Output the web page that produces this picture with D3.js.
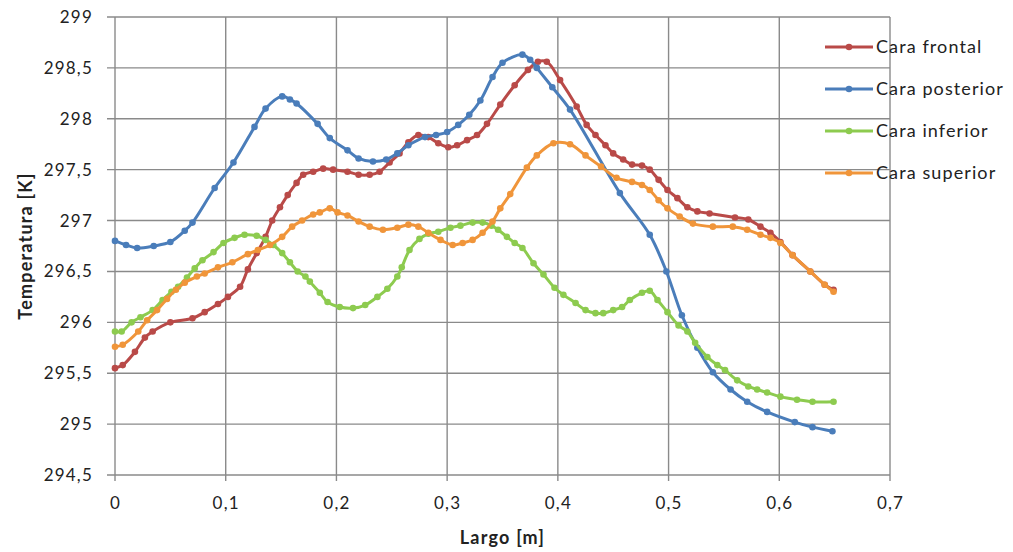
<!DOCTYPE html>
<html>
<head>
<meta charset="utf-8">
<script src="https://cdn.jsdelivr.net/npm/d3@7"></script>
<style>
  body { margin: 0; background: #fff; }
  svg { font-family: Lato, "Open Sans", sans-serif; }
</style>
</head>
<body>
<svg id="chart" width="1013" height="552"></svg>
<script>
// Cara frontal
const frontalX = [0, 0.007, 0.018, 0.027, 0.034, 0.05, 0.07, 0.081, 0.093, 0.102, 0.113, 0.12, 0.128, 0.136, 0.142, 0.149, 0.156, 0.164, 0.17, 0.179, 0.188, 0.197, 0.21, 0.22, 0.23, 0.239, 0.248, 0.257, 0.265, 0.274, 0.283, 0.292, 0.301, 0.309, 0.318, 0.327, 0.336, 0.348, 0.361, 0.373, 0.382, 0.39, 0.402, 0.417, 0.426, 0.434, 0.443, 0.45, 0.459, 0.467, 0.476, 0.483, 0.491, 0.499, 0.508, 0.517, 0.526, 0.537, 0.56, 0.572, 0.583, 0.592, 0.601, 0.612, 0.628, 0.641, 0.649];
const frontalT = [295.55, 295.58, 295.71, 295.85, 295.91, 296.0, 296.04, 296.1, 296.18, 296.25, 296.35, 296.52, 296.68, 296.84, 297.0, 297.13, 297.25, 297.37, 297.45, 297.48, 297.51, 297.5, 297.48, 297.45, 297.45, 297.48, 297.57, 297.66, 297.77, 297.84, 297.82, 297.76, 297.72, 297.74, 297.79, 297.84, 297.95, 298.14, 298.33, 298.48, 298.56, 298.56, 298.38, 298.12, 297.94, 297.84, 297.74, 297.66, 297.6, 297.55, 297.54, 297.5, 297.4, 297.3, 297.22, 297.13, 297.09, 297.07, 297.03, 297.01, 296.94, 296.88, 296.79, 296.66, 296.5, 296.37, 296.32];

// Cara posterior
const posteriorX = [0, 0.01, 0.02, 0.035, 0.05, 0.063, 0.07, 0.09, 0.107, 0.126, 0.136, 0.151, 0.158, 0.164, 0.183, 0.194, 0.21, 0.22, 0.233, 0.245, 0.255, 0.265, 0.28, 0.29, 0.3, 0.31, 0.32, 0.33, 0.341, 0.35, 0.368, 0.375, 0.381, 0.395, 0.411, 0.456, 0.483, 0.498, 0.512, 0.526, 0.54, 0.556, 0.571, 0.589, 0.614, 0.63, 0.648];
const posteriorT = [296.8, 296.76, 296.73, 296.75, 296.79, 296.9, 296.98, 297.32, 297.57, 297.92, 298.1, 298.22, 298.19, 298.15, 297.95, 297.81, 297.69, 297.61, 297.58, 297.6, 297.66, 297.74, 297.82, 297.84, 297.87, 297.94, 298.04, 298.18, 298.41, 298.55, 298.63, 298.58, 298.5, 298.31, 298.09, 297.27, 296.86, 296.5, 296.07, 295.75, 295.51, 295.34, 295.22, 295.12, 295.02, 294.97, 294.93];

// Cara inferior
const inferiorX = [0, 0.006, 0.015, 0.023, 0.034, 0.043, 0.051, 0.057, 0.065, 0.072, 0.079, 0.089, 0.098, 0.108, 0.117, 0.128, 0.136, 0.143, 0.151, 0.158, 0.165, 0.172, 0.176, 0.185, 0.192, 0.203, 0.215, 0.226, 0.237, 0.246, 0.255, 0.259, 0.266, 0.275, 0.283, 0.292, 0.303, 0.312, 0.323, 0.332, 0.34, 0.346, 0.354, 0.361, 0.368, 0.378, 0.387, 0.397, 0.405, 0.416, 0.425, 0.434, 0.441, 0.45, 0.458, 0.465, 0.476, 0.483, 0.49, 0.499, 0.509, 0.517, 0.524, 0.535, 0.544, 0.551, 0.562, 0.572, 0.58, 0.589, 0.601, 0.616, 0.63, 0.649];
const inferiorT = [295.91, 295.91, 296.0, 296.05, 296.12, 296.22, 296.3, 296.35, 296.44, 296.53, 296.61, 296.69, 296.78, 296.83, 296.86, 296.85, 296.81, 296.76, 296.68, 296.59, 296.5, 296.45, 296.4, 296.29, 296.2, 296.15, 296.14, 296.17, 296.25, 296.33, 296.45, 296.54, 296.71, 296.82, 296.87, 296.89, 296.93, 296.95, 296.98, 296.98, 296.95, 296.91, 296.84, 296.78, 296.73, 296.58, 296.47, 296.34, 296.27, 296.19, 296.12, 296.09, 296.09, 296.12, 296.15, 296.22, 296.29, 296.31, 296.22, 296.1, 295.97, 295.91, 295.8, 295.66, 295.58, 295.53, 295.43, 295.37, 295.34, 295.31, 295.27, 295.24, 295.22, 295.22];

// Cara superior
const superiorX = [0, 0.007, 0.021, 0.029, 0.038, 0.047, 0.055, 0.063, 0.074, 0.081, 0.093, 0.106, 0.12, 0.129, 0.14, 0.151, 0.16, 0.169, 0.179, 0.185, 0.194, 0.201, 0.21, 0.22, 0.23, 0.242, 0.255, 0.265, 0.274, 0.283, 0.294, 0.305, 0.314, 0.323, 0.332, 0.341, 0.348, 0.357, 0.372, 0.381, 0.396, 0.411, 0.425, 0.439, 0.453, 0.467, 0.476, 0.483, 0.491, 0.499, 0.51, 0.522, 0.54, 0.558, 0.571, 0.583, 0.592, 0.601, 0.612, 0.628, 0.641, 0.649];
const superiorT = [295.76, 295.78, 295.91, 296.02, 296.12, 296.23, 296.32, 296.39, 296.45, 296.48, 296.54, 296.59, 296.67, 296.71, 296.76, 296.84, 296.94, 297.0, 297.06, 297.08, 297.12, 297.08, 297.05, 296.99, 296.94, 296.91, 296.93, 296.96, 296.94, 296.88, 296.81, 296.76, 296.78, 296.81, 296.88, 296.99, 297.12, 297.26, 297.52, 297.64, 297.76, 297.75, 297.64, 297.53, 297.42, 297.38, 297.35, 297.3, 297.2, 297.12, 297.04, 296.97, 296.94, 296.94, 296.91, 296.86, 296.83, 296.78, 296.66, 296.5, 296.37, 296.3];

const seriesNames = ["Cara frontal", "Cara posterior", "Cara inferior", "Cara superior"];
const seriesColors = ["#B94A48", "#4A7DBA", "#8DCB4F", "#F0953A"];
const xTicks = [0, 0.1, 0.2, 0.3, 0.4, 0.5, 0.6, 0.7];
const yTicks = [294.5, 295, 295.5, 296, 296.5, 297, 297.5, 298, 298.5, 299];

const series = [
  { name: seriesNames[0], color: seriesColors[0], xs: frontalX, ts: frontalT },
  { name: seriesNames[1], color: seriesColors[1], xs: posteriorX, ts: posteriorT },
  { name: seriesNames[2], color: seriesColors[2], xs: inferiorX, ts: inferiorT },
  { name: seriesNames[3], color: seriesColors[3], xs: superiorX, ts: superiorT }
].map(s => ({ ...s, points: s.xs.map((x, i) => [x, s.ts[i]]) }));

const svg = d3.select("#chart");
const plotLeft = 115, plotRight = 890, plotTop = 17, plotBottom = 475;

const x = d3.scaleLinear().domain([0, 0.7]).range([plotLeft, plotRight]);
const y = d3.scaleLinear().domain([294.5, 299]).range([plotBottom, plotTop]);

const es = d3.formatLocale({ decimal: ",", thousands: ".", grouping: [3], currency: ["", "€"] });
const fmt = es.format(".1~f");

// grid
const grid = svg.append("g").attr("stroke", "#8a8a8a").attr("stroke-width", 1.4);
grid.selectAll("line.v").data(xTicks).join("line").attr("class", "v")
  .attr("x1", d => x(d)).attr("x2", d => x(d))
  .attr("y1", plotTop).attr("y2", plotBottom + 6);
grid.selectAll("line.h").data(yTicks).join("line").attr("class", "h")
  .attr("x1", plotLeft - 8).attr("x2", plotRight)
  .attr("y1", d => y(d)).attr("y2", d => y(d));

// axes (labels only, lines come from the grid)
const xAxis = svg.append("g")
  .attr("transform", `translate(0,${plotBottom})`)
  .call(d3.axisBottom(x).tickValues(xTicks).tickFormat(fmt).tickSize(0).tickPadding(22));
const yAxis = svg.append("g")
  .attr("transform", `translate(${plotLeft},0)`)
  .call(d3.axisLeft(y).tickValues(yTicks).tickFormat(fmt).tickSize(0).tickPadding(22));
[xAxis, yAxis].forEach(a => {
  a.select(".domain").remove();
  a.selectAll("text").attr("font-size", 17).attr("fill", "#222")
    .attr("font-family", "Lato, sans-serif").style("letter-spacing", "1.2px");
});

// axis titles
svg.append("text")
  .attr("x", (plotLeft + plotRight) / 2).attr("y", 544)
  .attr("text-anchor", "middle").attr("font-size", 18).attr("font-weight", "bold")
  .attr("fill", "#222").style("letter-spacing", "1.2px")
  .text("Largo [m]");
svg.append("text")
  .attr("transform", `translate(32,${(plotTop + plotBottom) / 2}) rotate(-90)`)
  .attr("text-anchor", "middle").attr("font-size", 18).attr("font-weight", "bold")
  .attr("fill", "#222").style("letter-spacing", "1.2px")
  .text("Temperatura [K]");

// lines + markers
const line = d3.line()
  .x(d => x(d[0])).y(d => y(d[1]))
  .curve(d3.curveCatmullRom.alpha(0.5));

series.forEach(s => {
  const g = svg.append("g");
  g.append("path")
    .attr("d", line(s.points))
    .attr("fill", "none").attr("stroke", s.color)
    .attr("stroke-width", 3).attr("stroke-linejoin", "round");
  g.selectAll("circle").data(s.points).join("circle")
    .attr("cx", d => x(d[0])).attr("cy", d => y(d[1]))
    .attr("r", 3.3).attr("fill", s.color);
});

// legend
const legend = svg.append("g");
series.forEach((s, i) => {
  const ly = 47 + i * 42;
  legend.append("line")
    .attr("x1", 825).attr("x2", 873).attr("y1", ly).attr("y2", ly)
    .attr("stroke", s.color).attr("stroke-width", 3);
  legend.append("circle").attr("cx", 849).attr("cy", ly).attr("r", 3.3).attr("fill", s.color);
  legend.append("text")
    .attr("x", 876).attr("y", ly).attr("dy", "0.35em")
    .attr("font-size", 18).attr("fill", "#222").style("letter-spacing", "1.1px")
    .text(s.name);
});
</script>
</body>
</html>
